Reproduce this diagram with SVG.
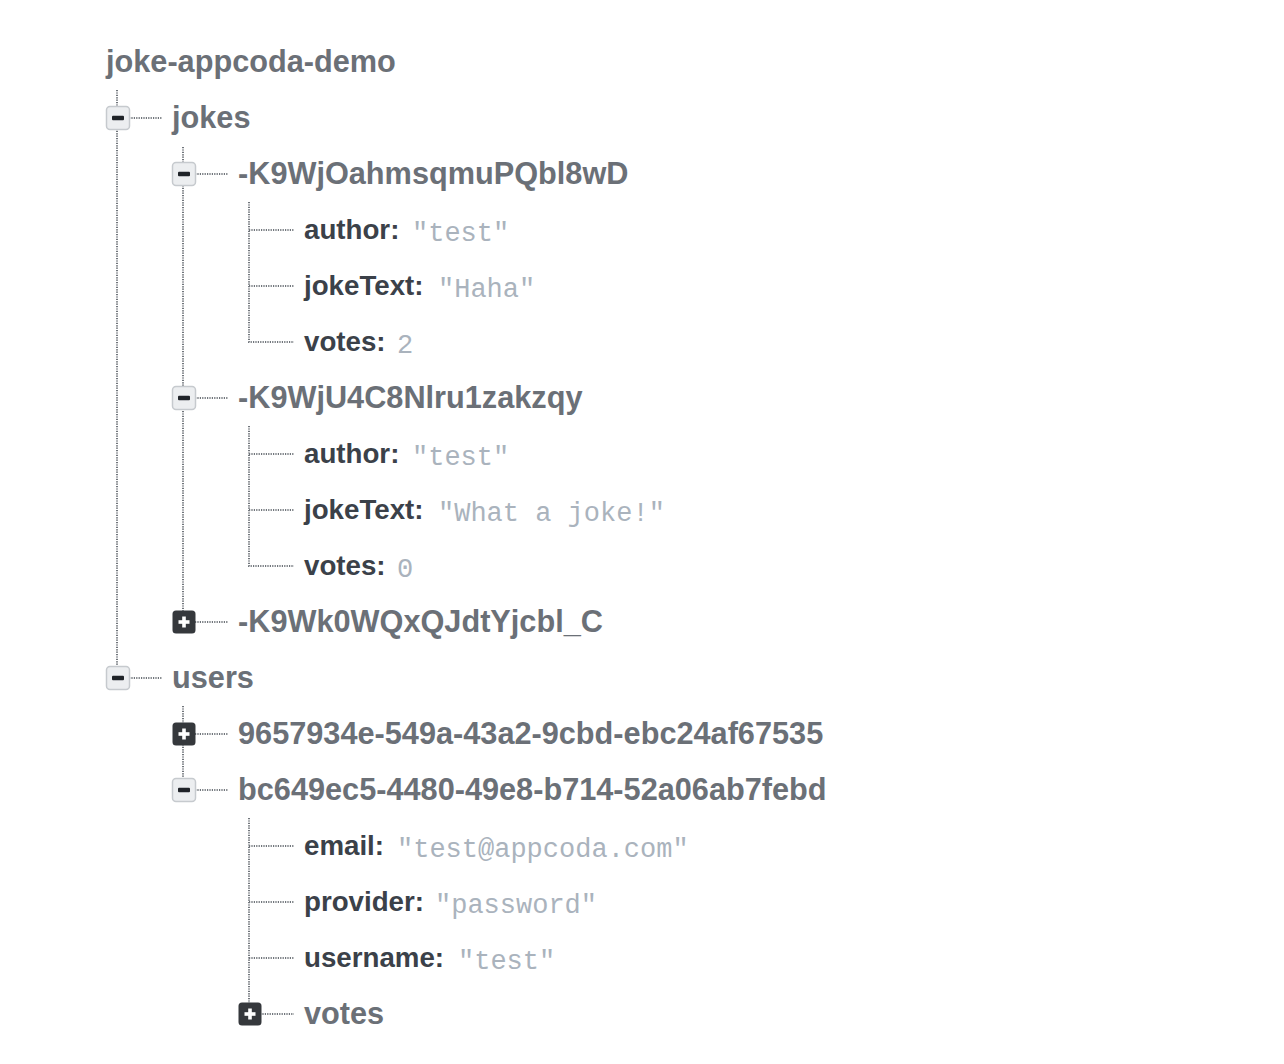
<svg xmlns="http://www.w3.org/2000/svg" width="1284" height="1064" viewBox="0 0 1284 1064">
<defs>
<style>
.k{font-family:"Liberation Sans",Arial,sans-serif;font-weight:bold;font-size:30.7px;fill:#6b7077}
.lk{font-family:"Liberation Sans",Arial,sans-serif;font-weight:bold;font-size:27.7px;fill:#3b4149}
.v{font-family:"Liberation Mono","Courier New",monospace;font-size:27px;fill:#aab3bd}
.c{stroke:#70757b;stroke-width:2;stroke-dasharray:1.2 1.2;fill:none}
</style>
<g id="minus">
<rect x="-11.5" y="-11.5" width="23" height="23" rx="3.5" fill="#eceef0" stroke="#c6cace" stroke-width="1.5"/>
<rect x="-6" y="-2.2" width="12" height="4.4" rx="1" fill="#1f2328"/>
</g>
<g id="plus">
<rect x="-11.5" y="-11.5" width="23" height="23" rx="3.5" fill="#35383c"/>
<rect x="-5.5" y="-1.8" width="11" height="3.6" fill="#ffffff"/>
<rect x="-1.8" y="-5.5" width="3.6" height="11" fill="#ffffff"/>
</g>
</defs>
<rect width="1284" height="1064" fill="#ffffff"/>
<g id="connectors">
<path class="c" d="M117 90V667"/>
<path class="c" d="M129 118H162M129 678H162"/>
<path class="c" d="M183 147V611"/>
<path class="c" d="M195 174H228M195 398H228M195 622H228"/>
<path class="c" d="M183 706V779"/>
<path class="c" d="M195 734H228M195 790H228"/>
<path class="c" d="M249 202V342H294M249 230H294M249 286H294"/>
<path class="c" d="M249 426V566H294M249 454H294M249 510H294"/>
<path class="c" d="M249 818V1003M249 846H294M249 902H294M249 958H294M260 1014H294"/>
</g>
<g id="node-root"><text class="k" x="106" y="72">joke-appcoda-demo</text></g>
<g id="node-jokes"><use href="#minus" x="118" y="118"/><text class="k" x="172" y="128">jokes</text></g>
<g id="node-joke1"><use href="#minus" x="184" y="174"/><text class="k" x="238" y="184">-K9WjOahmsqmuPQbl8wD</text></g>
<g id="node-joke1-author"><text class="lk" x="304" y="239">author:</text><text class="v" x="412" y="241">"test"</text></g>
<g id="node-joke1-text"><text class="lk" x="304" y="295">jokeText:</text><text class="v" x="438" y="297">"Haha"</text></g>
<g id="node-joke1-votes"><text class="lk" x="304" y="351">votes:</text><text class="v" x="397" y="353">2</text></g>
<g id="node-joke2"><use href="#minus" x="184" y="398"/><text class="k" x="238" y="408">-K9WjU4C8Nlru1zakzqy</text></g>
<g id="node-joke2-author"><text class="lk" x="304" y="463">author:</text><text class="v" x="412" y="465">"test"</text></g>
<g id="node-joke2-text"><text class="lk" x="304" y="519">jokeText:</text><text class="v" x="438" y="521">"What a joke!"</text></g>
<g id="node-joke2-votes"><text class="lk" x="304" y="575">votes:</text><text class="v" x="397" y="577">0</text></g>
<g id="node-joke3"><use href="#plus" x="184" y="622"/><text class="k" x="238" y="632">-K9Wk0WQxQJdtYjcbl_C</text></g>
<g id="node-users"><use href="#minus" x="118" y="678"/><text class="k" x="172" y="688">users</text></g>
<g id="node-user1"><use href="#plus" x="184" y="734"/><text class="k" x="238" y="744">9657934e-549a-43a2-9cbd-ebc24af67535</text></g>
<g id="node-user2"><use href="#minus" x="184" y="790"/><text class="k" x="238" y="800">bc649ec5-4480-49e8-b714-52a06ab7febd</text></g>
<g id="node-user2-email"><text class="lk" x="304" y="855">email:</text><text class="v" x="397" y="857">"test@appcoda.com"</text></g>
<g id="node-user2-provider"><text class="lk" x="304" y="911">provider:</text><text class="v" x="435" y="913">"password"</text></g>
<g id="node-user2-username"><text class="lk" x="304" y="967">username:</text><text class="v" x="458" y="969">"test"</text></g>
<g id="node-user2-votes"><use href="#plus" x="250" y="1014"/><text class="k" x="304" y="1024">votes</text></g>
</svg>
